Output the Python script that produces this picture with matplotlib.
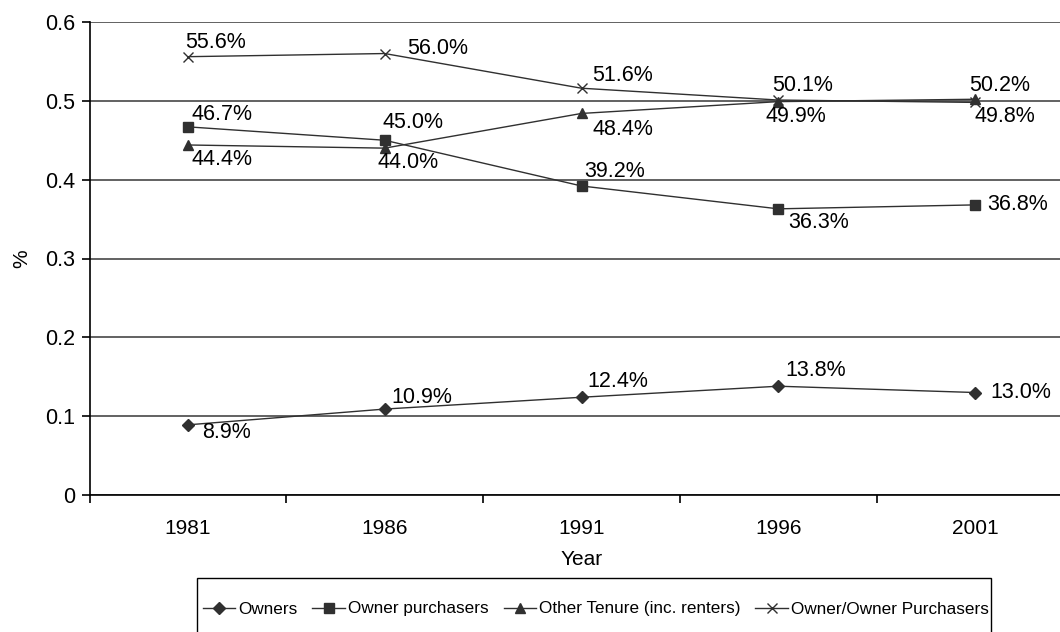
import numpy as np
import matplotlib.pyplot as plt
from matplotlib.patches import Rectangle

plt.rcParams['font.family'] = ['Liberation Sans', 'DejaVu Sans']

# dados
anos = ['1981', '1986', '1991', '1996', '2001']
owners = [8.9, 10.9, 12.4, 13.8, 13.0]
owner_purchasers = [46.7, 45.0, 39.2, 36.3, 36.8]
other_tenure = [44.4, 44.0, 48.4, 49.9, 50.2]
owner_owner_purch = [55.6, 56.0, 51.6, 50.1, 49.8]

series = [
    ('Owners', owners, 'D'),
    ('Owner purchasers', owner_purchasers, 's'),
    ('Other Tenure (inc. renters)', other_tenure, '^'),
    ('Owner/Owner Purchasers', owner_owner_purch, 'x'),
]

# deslocamento dos rotulos (pixels: dx ate a borda esquerda do texto, dy para baixo)
offsets = {
    'Owners': [(14, 8), (7, -12), (6, -16), (7, -16), (15, 0)],
    'Owner purchasers': [(4, -12), (-2, -18), (3, -14), (10, 14), (12, 0)],
    'Other Tenure (inc. renters)': [(4, 15), (-7, 14), (11, 16), (-13, 15), (-6, -14)],
    'Owner/Owner Purchasers': [(-3, -14), (22, -5), (11, -13), (-6, -15), (-1, 14)],
}

fig = plt.figure(figsize=(10.6, 6.32), dpi=100)
ax = fig.add_axes([89.5 / 1060, 1 - 495 / 632, 984 / 1060, 473 / 632])

x = np.arange(len(anos))
cor = '#303030'
handles = []
for nome, valores, marcador in series:
    v = np.array(valores) / 100.0
    ms = 7 if marcador == 'x' else 6.5
    h, = ax.plot(x, v, color=cor, lw=1.0, marker=marcador, ms=ms,
                 mec=cor, mfc=cor, mew=1.0, label=nome, zorder=3)
    handles.append(h)
    for xi, vi, (dx, dy) in zip(x, v, offsets[nome]):
        ax.annotate(f'{vi * 100:.1f}%', (xi, vi), xytext=(dx, -dy),
                    textcoords='offset pixels', ha='left', va='center',
                    fontsize=15.5, color='black', zorder=4)

ax.set_xlim(-0.5, len(anos) - 0.5)
ax.set_ylim(0, 0.6)
ax.set_yticks(np.arange(0, 0.61, 0.1))
ax.set_yticklabels(['0', '0.1', '0.2', '0.3', '0.4', '0.5', '0.6'])
ax.set_xticks(x)
ax.set_xticklabels(anos)
ax.set_xticks(np.arange(-0.5, len(anos), 1.0), minor=True)
ax.tick_params(axis='x', which='major', length=0, labelsize=15, pad=17)
ax.tick_params(axis='x', which='minor', length=6, width=1.2, direction='out')
ax.tick_params(axis='y', length=6, width=1.2, labelsize=15.5, pad=4)

ax.grid(axis='y', color='#555555', lw=1.3)
ax.set_axisbelow(True)
for lado in ['top', 'right']:
    ax.spines[lado].set_visible(False)
ax.spines['left'].set_linewidth(1.2)
ax.spines['bottom'].set_linewidth(1.2)

ax.set_xlabel('Year', fontsize=15, labelpad=9)
ax.set_ylabel('%', fontsize=15, labelpad=10)

# legenda sem moldura + caixa desenhada a parte (a caixa sai pela borda inferior)
leg = fig.legend(handles=handles, loc='center', ncol=4,
                 bbox_to_anchor=(596 / 1060, 1 - 609 / 632),
                 fontsize=12.3, frameon=False, borderpad=0.2,
                 handlelength=1.9, handletextpad=0.2, columnspacing=0.85)
caixa = Rectangle((197 / 1060, -0.05), (991 - 197) / 1060, 0.05 + (632 - 578) / 632,
                  transform=fig.transFigure, fill=False, edgecolor='black', lw=1.0)
fig.patches.append(caixa)

fig.savefig('out.png', dpi=100)
